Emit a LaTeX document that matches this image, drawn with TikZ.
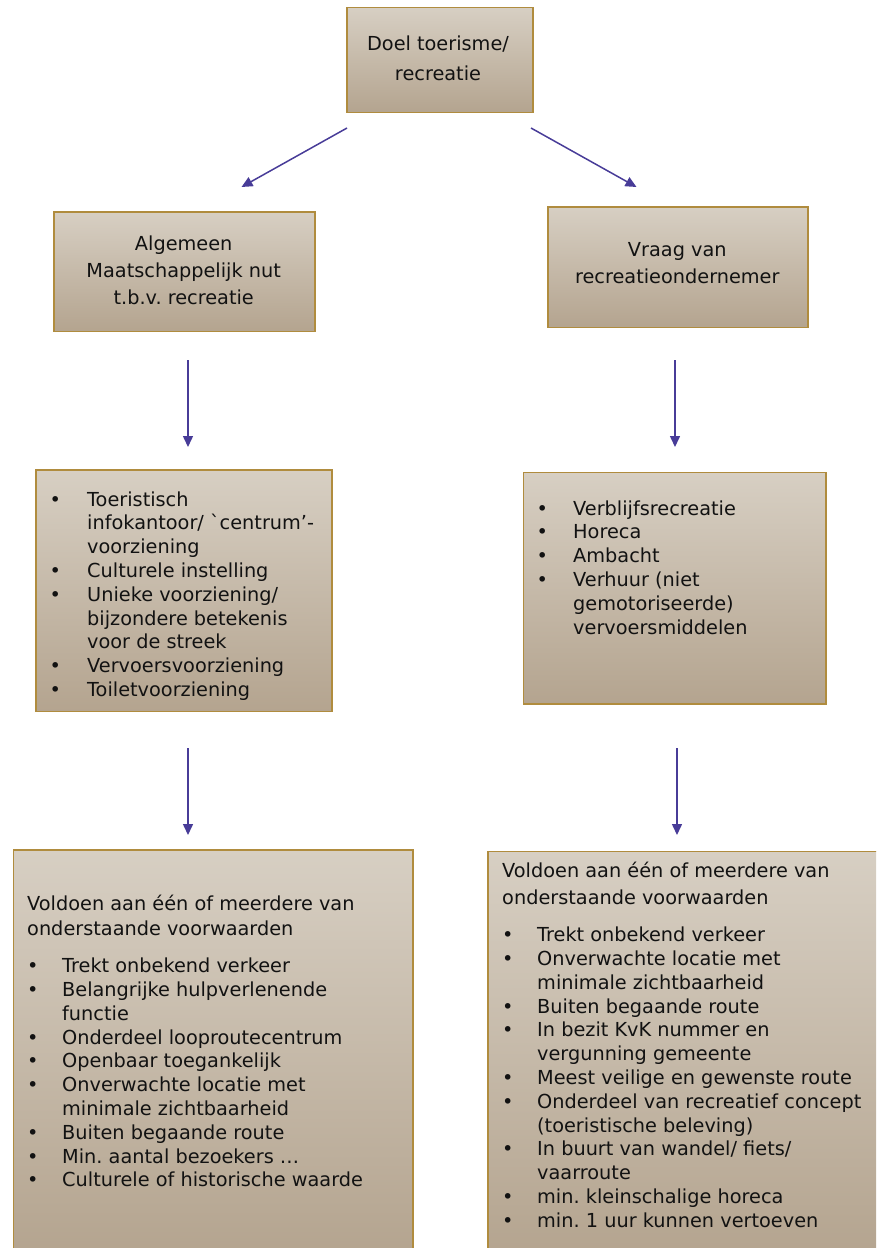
\documentclass[tikz,border=0pt]{standalone}
\usepackage{fontspec}
\setmainfont{DejaVu Sans}
\usetikzlibrary{arrows.meta}
\definecolor{boxtop}{RGB}{215,207,195}
\definecolor{boxbot}{RGB}{180,164,143}
\definecolor{boxline}{RGB}{176,140,62}
\definecolor{arrowc}{RGB}{72,60,152}
\definecolor{txtc}{RGB}{18,18,18}
\newcommand\bul{\textbullet}
\frenchspacing
\begin{document}
\begin{tikzpicture}[x=1pt,y=-1pt,
  box/.style={draw=boxline, line width=1.5pt, top color=boxtop, bottom color=boxbot,
    rectangle, inner sep=0pt, anchor=north west},
  txt/.style={inner sep=0pt, text=txtc, font=\fontsize{19.3}{23.8}\selectfont\frenchspacing},
  arr/.style={draw=arrowc, line width=1.5pt, -{Triangle[length=11pt,width=10pt]}}]
\useasboundingbox (0,0) rectangle (876,1248);
\clip (0,0) rectangle (876,1248);

% boxes
\node[box, minimum width=186pt, minimum height=105pt] (top) at (346,6.7) {};
\node[box, minimum width=260.7pt, minimum height=119.7pt] (gl) at (53.3,211) {};
\node[box, minimum width=260pt, minimum height=120.7pt] (gr) at (547.3,206) {};
\node[box, minimum width=296pt, minimum height=241.4pt] (ll) at (35,469.3) {};
\node[box, minimum width=302.3pt, minimum height=231.6pt] (lr) at (522.7,471.7) {};
\node[box, minimum width=399.6pt, minimum height=405pt] (bl) at (12.7,849.3) {};
\node[box, minimum width=400pt, minimum height=405pt] (br) at (487.3,850.7) {};

% texts
\node[txt, anchor=base] (ttop) at (438,50) {\begin{tabular}[t]{@{}c@{}}Doel toerisme/\\[6.2pt]recreatie\end{tabular}};
\node[txt, anchor=base] (tgl) at (183.7,250) {\begin{tabular}[t]{@{}c@{}}Algemeen\\[3.2pt]Maatschappelijk nut\\[3.2pt]t.b.v. recreatie\end{tabular}};
\node[txt, anchor=base] (tgr) at (677.3,256.7) {\begin{tabular}[t]{@{}c@{}}Vraag van\\[2.8pt]recreatieondernemer\end{tabular}};

\node[txt, anchor=base west] (tll) at (49.3,506) {\begin{tabular}[t]{@{}p{37.7pt}@{}l@{}}
\bul & Toeristisch\\
& infokantoor/ ˋcentrum’-\\
& voorziening\\
\bul & Culturele instelling\\
\bul & Unieke voorziening/\\
& bijzondere betekenis\\
& voor de streek\\
\bul & Vervoersvoorziening\\
\bul & Toiletvoorziening
\end{tabular}};

\node[txt, anchor=base west] (tlr) at (536.3,515) {\begin{tabular}[t]{@{}p{36.7pt}@{}l@{}}
\bul & Verblijfsrecreatie\\
\bul & Horeca\\
\bul & Ambacht\\
\bul & Verhuur (niet\\
& gemotoriseerde)\\
& vervoersmiddelen
\end{tabular}};

\node[txt, anchor=base west] (tbl) at (27,910) {\begin{tabular}[t]{@{}p{35pt}@{}l@{}}
\multicolumn{2}{@{}l@{}}{Voldoen aan één of meerdere van}\\[1.9pt]
\multicolumn{2}{@{}l@{}}{onderstaande voorwaarden}\\[13.2pt]
\bul & Trekt onbekend verkeer\\
\bul & Belangrijke hulpverlenende\\
& functie\\
\bul & Onderdeel looproutecentrum\\
\bul & Openbaar toegankelijk\\
\bul & Onverwachte locatie met\\
& minimale zichtbaarheid\\
\bul & Buiten begaande route\\
\bul & Min. aantal bezoekers …\\
\bul & Culturele of historische waarde
\end{tabular}};

\node[txt, anchor=base west] (tbr) at (502,877.7) {\begin{tabular}[t]{@{}p{35pt}@{}l@{}}
\multicolumn{2}{@{}l@{}}{Voldoen aan één of meerdere van}\\[2.8pt]
\multicolumn{2}{@{}l@{}}{onderstaande voorwaarden}\\[13.6pt]
\bul & Trekt onbekend verkeer\\
\bul & Onverwachte locatie met\\
& minimale zichtbaarheid\\
\bul & Buiten begaande route\\
\bul & In bezit KvK nummer en\\
& vergunning gemeente\\
\bul & Meest veilige en gewenste route\\
\bul & Onderdeel van recreatief concept\\
& (toeristische beleving)\\
\bul & In buurt van wandel/ fiets/\\
& vaarroute\\
\bul & min. kleinschalige horeca\\
\bul & min. 1 uur kunnen vertoeven
\end{tabular}};

% arrows
\coordinate (a1s) at (347,128);
\coordinate (a1e) at (241.5,187);
\coordinate (a2s) at (531,128);
\coordinate (a2e) at (636.5,187);
\coordinate (a3s) at (188,360);
\coordinate (a3e) at (188,447);
\coordinate (a4s) at (675,360);
\coordinate (a4e) at (675,447);
\coordinate (a5s) at (188,748);
\coordinate (a5e) at (188,835);
\coordinate (a6s) at (677,748);
\coordinate (a6e) at (677,835);
\draw[arr] (a1s) -- (a1e);
\draw[arr] (a2s) -- (a2e);
\draw[arr] (a3s) -- (a3e);
\draw[arr] (a4s) -- (a4e);
\draw[arr] (a5s) -- (a5e);
\draw[arr] (a6s) -- (a6e);
\end{tikzpicture}
\end{document}
